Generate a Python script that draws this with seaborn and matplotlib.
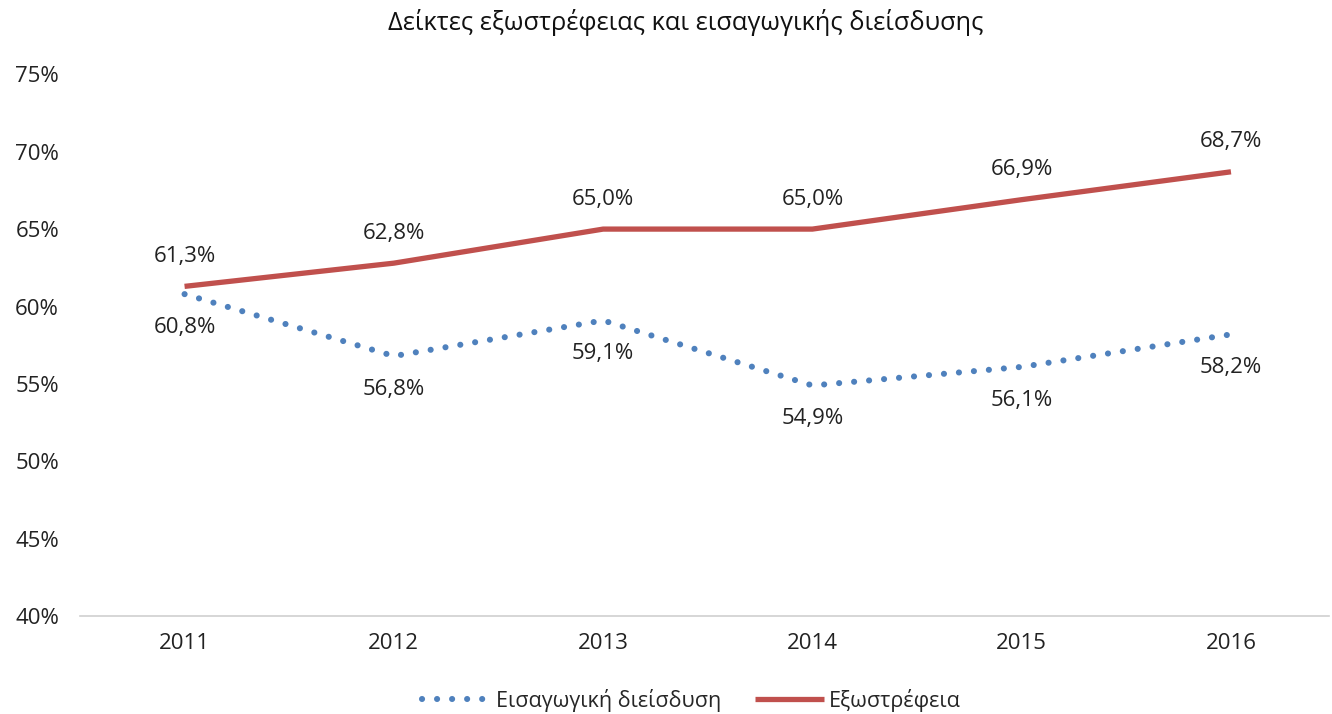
import matplotlib.pyplot as plt
import seaborn as sns
import pandas as pd

years = [2011, 2012, 2013, 2014, 2015, 2016]
eisagogiki = [60.8, 56.8, 59.1, 54.9, 56.1, 58.2]
exostrefeia = [61.3, 62.8, 65.0, 65.0, 66.9, 68.7]
yticks = [40, 45, 50, 55, 60, 65, 70, 75]

name_b = "Εισαγωγική διείσδυση"
name_r = "Εξωστρέφεια"

df = pd.DataFrame({
    "year": years * 2,
    "value": eisagogiki + exostrefeia,
    "series": [name_b] * len(years) + [name_r] * len(years),
})

sns.set_theme(style="white")
plt.rcParams['font.family'] = ['Open Sans', 'DejaVu Sans']

fig = plt.figure(figsize=(13.32, 7.14), dpi=100)
ax = fig.add_axes([0.060, 0.137, 0.938, 0.759])

blue = "#4F81BD"
red = "#C0504D"
fs = 16

sns.lineplot(data=df[df.series == name_b], x="year", y="value", color=blue,
             lw=4.4, linestyle=(0, (0.01, 2.45)), dash_capstyle="round", ax=ax, label=name_b)
sns.lineplot(data=df[df.series == name_r], x="year", y="value", color=red,
             lw=3.8, solid_capstyle="butt", ax=ax, label=name_r)

# data labels
for x, v in zip(years, eisagogiki):
    ax.annotate(f"{v:.1f}%".replace(".", ","), (x, v), xytext=(0, -24),
                textcoords="offset points", ha="center", va="center", fontsize=fs, color="#222222")
for x, v in zip(years, exostrefeia):
    ax.annotate(f"{v:.1f}%".replace(".", ","), (x, v), xytext=(0, 21.5),
                textcoords="offset points", ha="center", va="center", fontsize=fs, color="#222222")

ax.set_xlim(2010.5, 2016.47)
ax.set_ylim(40, 75)
ax.set_xticks(years)
ax.set_xticklabels([str(y) for y in years], fontsize=fs, color="#222222")
ax.set_yticks(yticks)
ax.set_yticklabels([f"{t}%" for t in yticks], fontsize=fs, color="#222222")
ax.tick_params(axis="y", pad=15, length=0)
ax.tick_params(axis="x", pad=12, length=0)
ax.set_xlabel("")
ax.set_ylabel("")
for s in ["top", "right", "left"]:
    ax.spines[s].set_visible(False)
ax.spines["bottom"].set_color("#d0d0d0")
ax.spines["bottom"].set_linewidth(1.2)

ax.get_legend().remove()
h, l = ax.get_legend_handles_labels()
fig.legend(h, l, loc="lower center", bbox_to_anchor=(0.519, -0.024), ncol=2, frameon=False,
           fontsize=15.5, handlelength=3.2, columnspacing=1.6, handletextpad=0.2)

fig.suptitle("Δείκτες εξωστρέφειας και εισαγωγικής διείσδυσης", x=0.515, y=0.988, fontsize=18.3, color="#111111")

fig.savefig("out.png", dpi=100)
